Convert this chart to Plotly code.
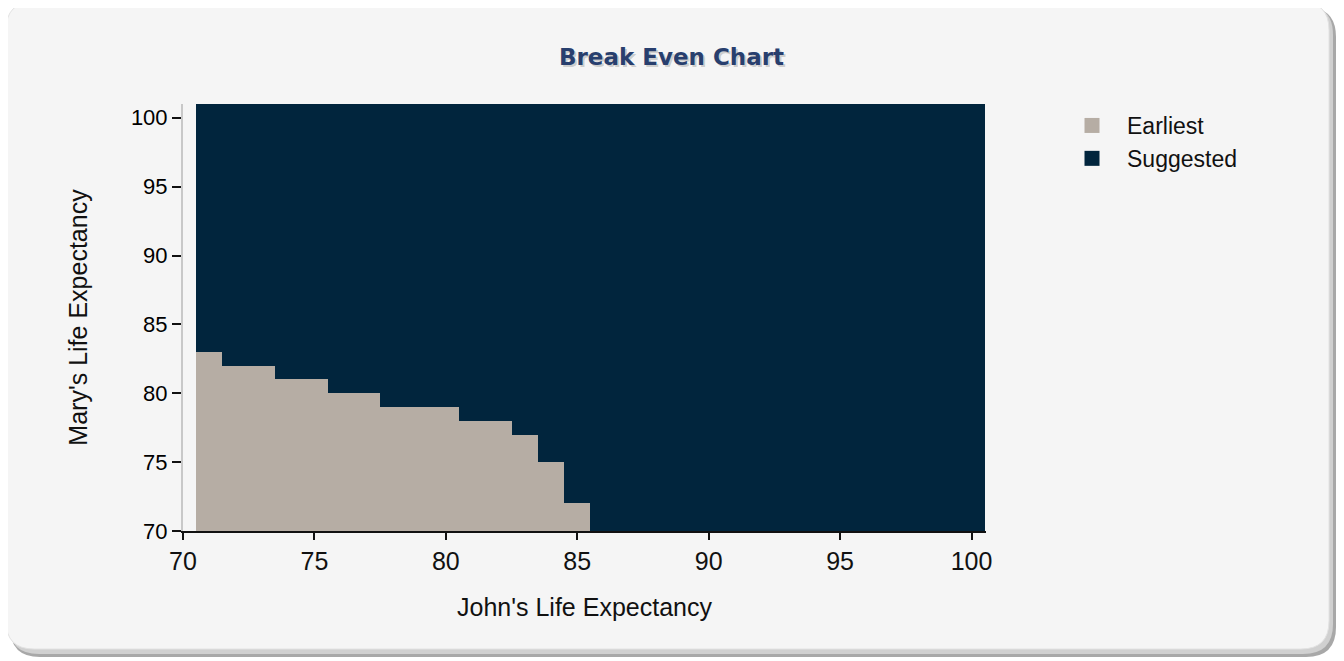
import plotly.graph_objects as go

# ---- data ----
john_age = list(range(71, 101))
earliest_top = [83, 82, 82, 81, 81, 80, 80, 79, 79, 79, 78, 78, 77, 75, 72] + [70] * 15
suggested_top = [101] * 30
y_floor = 70
series_names = ["Earliest", "Suggested"]
series_colors = ["#b6ada4", "#01253d"]

x_ticks = [70, 75, 80, 85, 90, 95, 100]
y_ticks = [70, 75, 80, 85, 90, 95, 100]

# ---- geometry (target pixel coords; page body has an 8px margin) ----
OFF = 8
W, H = 1344 - OFF, 661 - OFF
L, R, T, B = 183 - OFF, 986 - OFF, 104 - OFF, 531 - OFF
pw, ph = R - L, B - T


def px(x):
    return (x - OFF - L) / pw


def py(y):
    return (B - (y - OFF)) / ph


def rounded_rect(x0, y0, x1, y1, r):
    pts = [
        f"M {px(x0 + r)} {py(y0)}",
        f"L {px(x1 - r)} {py(y0)}",
        f"Q {px(x1)} {py(y0)} {px(x1)} {py(y0 + r)}",
        f"L {px(x1)} {py(y1 - r)}",
        f"Q {px(x1)} {py(y1)} {px(x1 - r)} {py(y1)}",
        f"L {px(x0 + r)} {py(y1)}",
        f"Q {px(x0)} {py(y1)} {px(x0)} {py(y1 - r)}",
        f"L {px(x0)} {py(y0 + r)}",
        f"Q {px(x0)} {py(y0)} {px(x0 + r)} {py(y0)}",
        "Z",
    ]
    return " ".join(pts)


earliest_h = [e - y_floor for e in earliest_top]
suggested_h = [s - e for s, e in zip(suggested_top, earliest_top)]

fig = go.Figure()
fig.add_trace(go.Bar(
    x=john_age, y=earliest_h, base=[y_floor] * len(john_age),
    name=series_names[0], legendgroup=series_names[0], showlegend=False,
    marker=dict(color=series_colors[0], line=dict(width=0)), width=1.0,
))
fig.add_trace(go.Bar(
    x=john_age, y=suggested_h, base=earliest_top,
    name=series_names[1], legendgroup=series_names[1], showlegend=False,
    marker=dict(color=series_colors[1], line=dict(width=0)), width=1.0,
))
# legend entries (larger square swatches)
for nm, col in zip(series_names, series_colors):
    fig.add_trace(go.Scatter(
        x=[None], y=[None], mode="markers", name=nm, legendgroup=nm,
        marker=dict(symbol="square", size=15, color=col), hoverinfo="skip",
    ))

shapes = [
    dict(type="path", xref="paper", yref="paper", layer="below",
         path=rounded_rect(10, 7, 1336, 657, 30),
         fillcolor="#a8a8a8", line=dict(width=0)),
    dict(type="path", xref="paper", yref="paper", layer="below",
         path=rounded_rect(9, 5, 1333, 654, 30),
         fillcolor="#d0d0d0", line=dict(width=0)),
    dict(type="path", xref="paper", yref="paper", layer="below",
         path=rounded_rect(6, 2, 1329, 649, 28),
         fillcolor="#f5f5f5", line=dict(color="#e2e2e2", width=1)),
]

title_font = "DejaVu Sans"
annotations = [
    dict(text="<b>Break Even Chart</b>", xref="paper", yref="paper",
         x=px(671 + 2), y=py(57 + 2), xanchor="center", yanchor="middle",
         showarrow=False,
         font=dict(family=title_font, size=23, color="rgba(0,0,0,0.18)")),
    dict(text="<b>Break Even Chart</b>", xref="paper", yref="paper",
         x=px(671), y=py(57), xanchor="center", yanchor="middle",
         showarrow=False,
         font=dict(family=title_font, size=23, color="#283f6e")),
]

fig.update_layout(
    width=W, height=H,
    margin=dict(l=L, r=W - R, t=T, b=H - B, pad=0),
    paper_bgcolor="white",
    plot_bgcolor="rgba(0,0,0,0)",
    barmode="overlay",
    bargap=0,
    showlegend=True,
    legend=dict(x=px(1057), y=py(104), xanchor="left", yanchor="top",
                font=dict(family="Liberation Sans", size=23, color="#111111"),
                bgcolor="rgba(0,0,0,0)", tracegroupgap=0, itemwidth=60),
    shapes=shapes,
    annotations=annotations,
    xaxis=dict(
        range=[70, 100.55], tickvals=x_ticks, ticktext=[str(v) for v in x_ticks],
        showgrid=False, zeroline=False,
        showline=True, linecolor="#111111", linewidth=2,
        ticks="outside", ticklen=7, tickwidth=2, tickcolor="#111111",
        tickfont=dict(family="Liberation Sans", size=25, color="#111111"),
        title=dict(text="John's Life Expectancy", standoff=24,
                   font=dict(family="Liberation Sans", size=25, color="#111111")),
    ),
    yaxis=dict(
        range=[70, 101], tickvals=y_ticks, ticktext=[str(v) for v in y_ticks],
        showgrid=False, zeroline=False,
        showline=True, linecolor="#c8c8c8", linewidth=2,
        ticks="outside", ticklen=9, tickwidth=2, tickcolor="#111111",
        tickfont=dict(family="Liberation Sans", size=22, color="#000000"),
        title=dict(text="Mary's Life Expectancy", standoff=36,
                   font=dict(family="Liberation Sans", size=25, color="#111111")),
    ),
)

fig.write_html("out.html")
